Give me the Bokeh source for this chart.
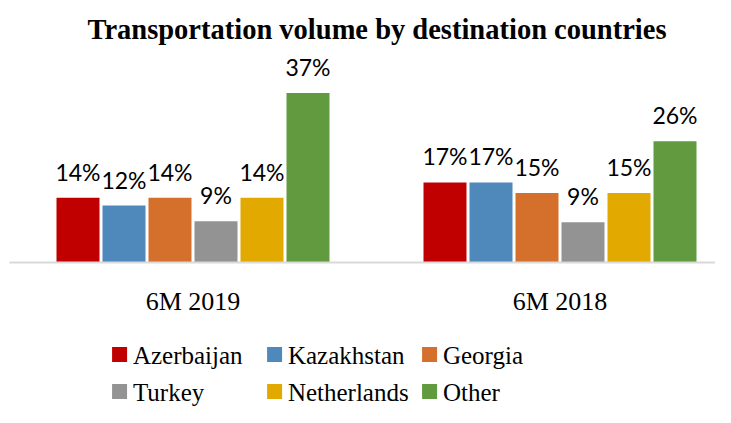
from bokeh.plotting import figure
from bokeh.layouts import column
from bokeh.models import ColumnDataSource, Range1d, FixedTicker
from bokeh.transform import dodge
from bokeh.core.properties import value
from bokeh.embed import file_html
from bokeh.resources import INLINE

# ---- data ----
periods = ["6M 2019", "6M 2018"]
countries = ["Azerbaijan", "Kazakhstan", "Georgia", "Turkey", "Netherlands", "Other"]
share_6m2019 = [14.0, 12.3, 14.0, 8.9, 14.0, 36.6]
share_6m2018 = [17.3, 17.3, 15.0, 8.7, 15.0, 26.2]
colors = ["#C00000", "#4F88BB", "#D4702B", "#939393", "#E2AA00", "#629B3F"]

SERIF = "Liberation Serif, 'Times New Roman', serif"

group_x = [0.5, 1.5]
cat_px = 367.0
step = 46.0 / cat_px
bar_w = 43.0 / cat_px

p = figure(width=715, height=326,
           x_range=Range1d(0, 706.0 / cat_px), y_range=Range1d(0, 45.36),
           output_backend="svg", toolbar_location=None, y_axis_location=None,
           min_border_left=9, min_border_right=0, min_border_top=52, min_border_bottom=64,
           title="Transportation volume by destination countries")

p.title.align = "left"
p.title.offset = 78
p.title.text_font = "Liberation Serif"
p.title.text_font_size = "28.5px"
p.title.text_font_style = "bold"
p.title.text_color = "#000000"
p.title.standoff = 16

p.outline_line_color = None
p.xgrid.visible = False
p.ygrid.visible = False

for i, c in enumerate(countries):
    vals = [share_6m2019[i], share_6m2018[i]]
    src = ColumnDataSource(dict(x=group_x, top=vals,
                                label=["{:.0f}%".format(v) for v in vals]))
    p.vbar(x=dodge("x", (i - 2.5) * step, range=p.x_range), top="top", width=bar_w,
           bottom=0, fill_color=colors[i], line_color=None, source=src)
    p.text(x=dodge("x", (i - 2.5) * step, range=p.x_range), y="top", text="label", source=src,
           text_align="center", text_baseline="alphabetic", y_offset=-26,
           text_font=value("Lato"), text_font_size="23px", text_color="#000000")

ax = p.xaxis[0]
ax.ticker = FixedTicker(ticks=group_x)
ax.major_label_overrides = {group_x[k]: periods[k] for k in range(2)}
ax.axis_line_color = "#D9D9D9"
ax.axis_line_width = 2
ax.major_tick_line_color = None
ax.minor_tick_line_color = None
ax.major_tick_out = 0
ax.major_label_standoff = 24
ax.major_label_text_font = "Liberation Serif"
ax.major_label_text_font_size = "26px"
ax.major_label_text_color = "#000000"

# ---- legend strip: 3 columns x 2 rows of swatch + label ----
strip_w, strip_h = 707, 81
q = figure(width=strip_w, height=strip_h,
           x_range=Range1d(0, strip_w), y_range=Range1d(0, strip_h),
           output_backend="svg", toolbar_location=None,
           x_axis_location=None, y_axis_location=None,
           min_border_left=0, min_border_right=0, min_border_top=0, min_border_bottom=0)
q.outline_line_color = None
q.xgrid.visible = False
q.ygrid.visible = False

n_cols = 3
col_pitch, first_x = 157, 104
swatch = 15
row_y = [53, 16]
leg = ColumnDataSource(dict(
    label=countries,
    color=colors,
    sx=[first_x + swatch / 2 + col_pitch * (k % n_cols) for k in range(len(countries))],
    tx=[first_x + swatch + 6 + col_pitch * (k % n_cols) for k in range(len(countries))],
    y=[row_y[k // n_cols] for k in range(len(countries))],
))
q.scatter(x="sx", y="y", marker="square", size=swatch, fill_color="color",
          line_color=None, source=leg)
q.text(x="tx", y="y", text="label", source=leg, text_align="left",
       text_baseline="alphabetic", y_offset=1,
       text_font=value(SERIF), text_font_size="25px", text_color="#000000")

layout = column(p, q, spacing=0)
open("out.html", "w").write(file_html(layout, INLINE))
